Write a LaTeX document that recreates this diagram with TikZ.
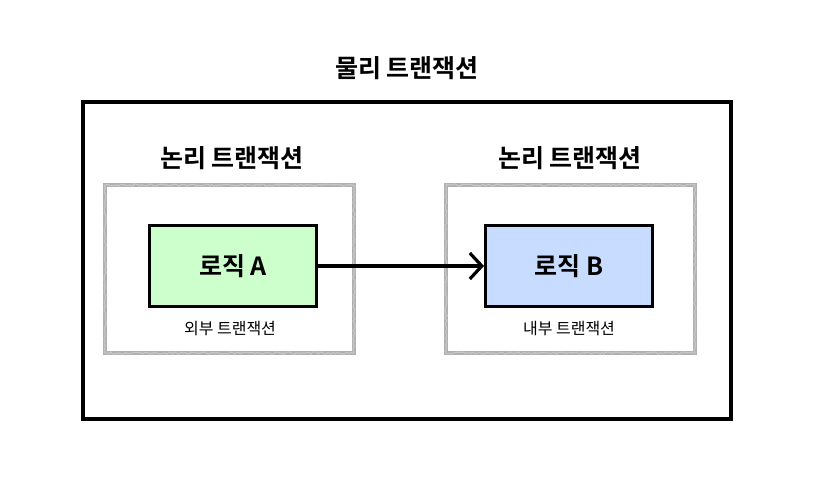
\documentclass[tikz,border=0pt]{standalone}
\usepackage{fontspec}
\setmainfont{Noto Sans CJK KR}[BoldFont={Noto Sans CJK KR Bold}]
\usetikzlibrary{arrows.meta,decorations.pathmorphing}
\definecolor{boxgreen}{HTML}{CCFFCC}
\definecolor{boxblue}{HTML}{C8DCFF}
\definecolor{sketchgray}{HTML}{B0B0B0}
\begin{document}
\begin{tikzpicture}[x=1pt,y=-1pt,
  outerbox/.style={draw=black,line width=3.5pt},
  logicbox/.style={draw=sketchgray,line width=4pt},
  logicgrain/.style={draw=gray!45,line width=1.2pt,decorate,decoration={random steps,segment length=2pt,amplitude=1pt}},
  codebox/.style={draw=black,line width=3pt,minimum width=167pt,minimum height=81pt,inner sep=0pt,font=\fontsize{25}{28}\selectfont\bfseries},
  title/.style={font=\fontsize{25}{28}\selectfont\bfseries},
  sublabel/.style={font=\fontsize{16}{18}\selectfont}]
\useasboundingbox (0,0) rectangle (824,486);
\fill[white] (0,0) rectangle (824,486);
\draw[outerbox] (83,102) rectangle (731,419);
\node[title] (t0) at (407,68) {물리 트랜잭션};
\draw[logicbox] (105,185) rectangle (354,353);
\draw[logicgrain] (105,185) rectangle (354,353);
\draw[logicbox] (446,185) rectangle (695,353);
\draw[logicgrain] (446,185) rectangle (695,353);
\node[title] (t1) at (232,158) {논리 트랜잭션};
\node[title] (t2) at (570,158) {논리 트랜잭션};
\node[codebox,fill=boxgreen] (a) at (233,266) {로직 A};
\node[codebox,fill=boxblue] (b) at (569,266) {로직 B};
\node[sublabel] (la) at (230,329) {외부 트랜잭션};
\node[sublabel] (lb) at (569,329) {내부 트랜잭션};
\draw[line width=3.2pt,-{Straight Barb[length=12pt,width=26pt,line width=3.2pt]}] (a.east) -- (b.west);
\end{tikzpicture}
\end{document}
